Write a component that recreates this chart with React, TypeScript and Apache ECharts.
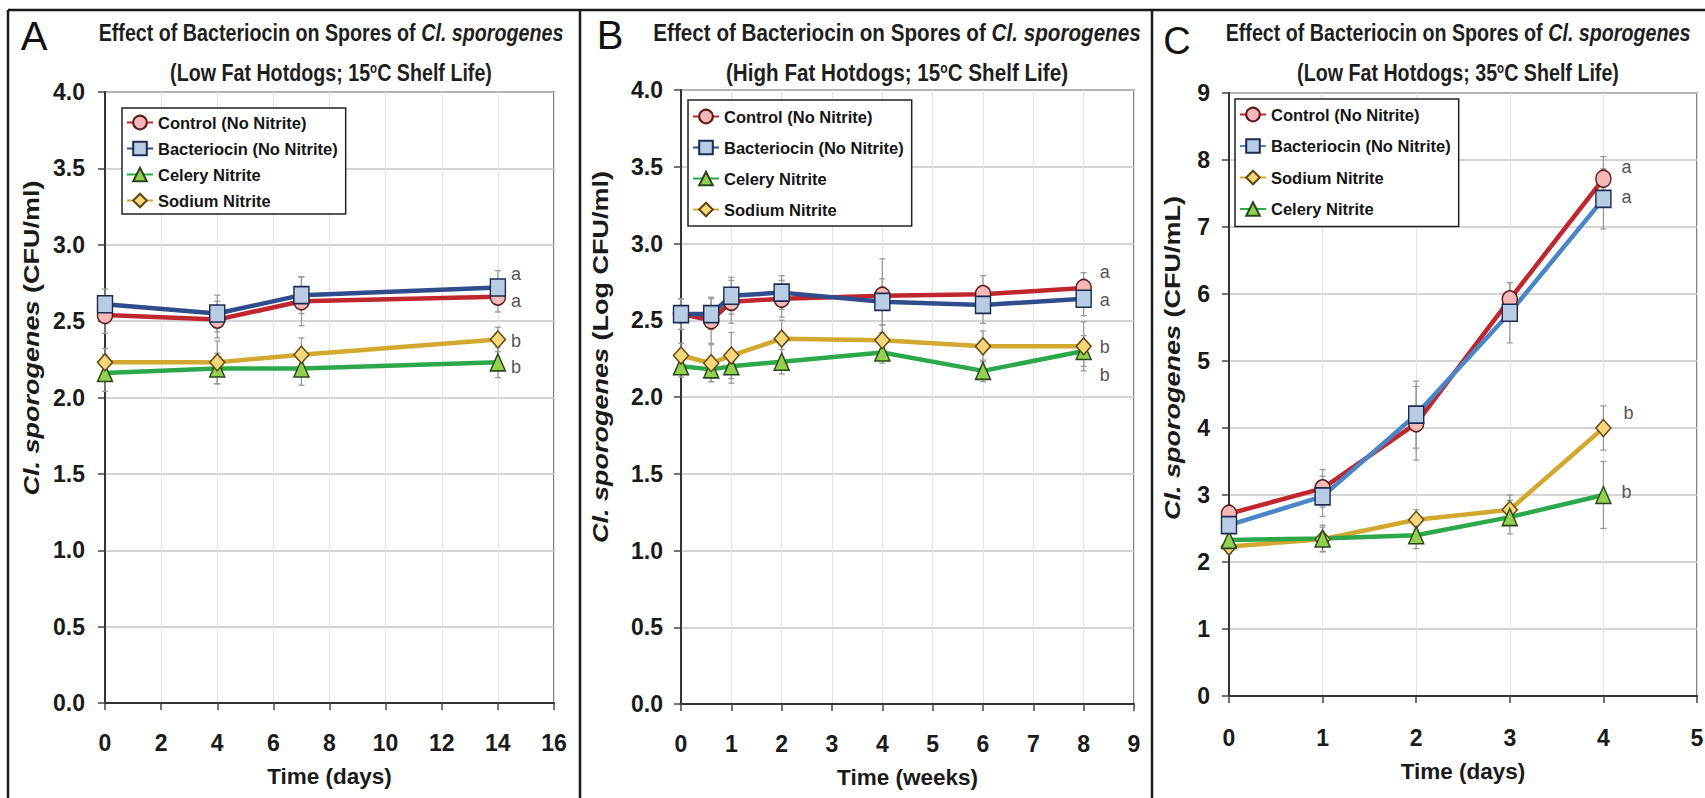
import React, { useEffect, useRef } from 'react';
import * as echarts from 'echarts';

// ---------- DATA ----------
const seriesNames = ['Control (No Nitrite)', 'Bacteriocin (No Nitrite)', 'Celery Nitrite', 'Sodium Nitrite'];

// Panel A: low fat hotdogs, 15 C (days)
const daysA = [0, 4, 7, 14];
const controlA = [2.54, 2.51, 2.63, 2.66];
const bactA = [2.61, 2.55, 2.67, 2.72];
const celeryA = [2.16, 2.19, 2.19, 2.23];
const sodiumA = [2.23, 2.23, 2.28, 2.38];
const controlErrA = [0.12, 0.12, 0.16, 0.1];
const bactErrA = [0.1, 0.12, 0.12, 0.11];
const celeryErrA = [0.12, 0.1, 0.11, 0.1];
const sodiumErrA = [0.09, 0.14, 0.11, 0.08];
const lettersA = ['a', 'a', 'b', 'b'];

// Panel B: high fat hotdogs, 15 C (weeks)
const weeksB = [0, 0.6, 1, 2, 4, 6, 8];
const controlB = [2.54, 2.5, 2.62, 2.64, 2.66, 2.67, 2.71];
const bactB = [2.54, 2.54, 2.66, 2.68, 2.62, 2.6, 2.64];
const celeryB = [2.2, 2.18, 2.2, 2.23, 2.29, 2.17, 2.3];
const sodiumB = [2.27, 2.22, 2.27, 2.38, 2.37, 2.33, 2.33];
const controlErrB = [0.1, 0.15, 0.14, 0.12, 0.24, 0.12, 0.1];
const bactErrB = [0.1, 0.1, 0.12, 0.11, 0.15, 0.12, 0.11];
const celeryErrB = [0.07, 0.08, 0.11, 0.08, 0.07, 0.07, 0.1];
const sodiumErrB = [0.08, 0.12, 0.15, 0.12, 0.1, 0.1, 0.16];
const lettersB = ['a', 'a', 'b', 'b'];

// Panel C: low fat hotdogs, 35 C (days)
const daysC = [0, 1, 2, 3, 4];
const controlC = [2.72, 3.1, 4.07, 5.92, 7.72];
const bactC = [2.55, 2.98, 4.2, 5.72, 7.42];
const celeryC = [2.33, 2.35, 2.4, 2.67, 3.0];
const sodiumC = [2.23, 2.34, 2.63, 2.78, 4.0];
const controlErrC = [0.1, 0.28, 0.55, 0.25, 0.33];
const bactErrC = [0.1, 0.3, 0.5, 0.45, 0.45];
const celeryErrC = [0.1, 0.2, 0.2, 0.25, 0.5];
const sodiumErrC = [0.1, 0.18, 0.15, 0.22, 0.33];
const lettersC = ['a', 'a', 'b', 'b'];

const ticksA = { min: 0, max: 16, interval: 2 };
const ticksB = { min: 0, max: 9, interval: 1 };
const ticksC = { min: 0, max: 5, interval: 1 };

// ---------- STYLE ----------
const SANS = "'Liberation Sans', Arial, sans-serif";

const look: any = {
  control: { symbol: 'circle', line: '#C0262D', fill: '#F4B8B8', border: '#5A1A1A' },
  bact: { symbol: 'rect', line: '#2F4D8C', fill: '#B8CCE4', border: '#1C2C50' },
  celery: { symbol: 'triangle', line: '#2CA84A', fill: '#92D050', border: '#2A451C' },
  sodium: { symbol: 'diamond', line: '#D3A82E', fill: '#F7D67A', border: '#5E4810' },
};

function lineSeries(name: string, key: string, xs: number[], ys: number[], gi: number, letter: string, offset: number[], lineColor?: string) {
  const lk = look[key];
  return {
    type: 'line',
    name,
    xAxisIndex: gi,
    yAxisIndex: gi,
    z: 3,
    symbol: lk.symbol,
    symbolSize: [15, 17],
    showSymbol: true,
    lineStyle: { color: lineColor || lk.line, width: 4.5 },
    itemStyle: { color: lk.fill, borderColor: lk.border, borderWidth: 1.5 },
    emphasis: { disabled: true },
    data: xs.map((x, j) =>
      j === xs.length - 1
        ? {
            value: [x, ys[j]],
            label: {
              show: true,
              formatter: letter,
              position: 'right',
              offset,
              color: '#555',
              fontSize: 18,
              fontFamily: SANS,
            },
          }
        : [x, ys[j]]
    ),
  };
}

function errSeries(gi: number, xs: number[], ys: number[], es: number[]) {
  return {
    type: 'custom',
    xAxisIndex: gi,
    yAxisIndex: gi,
    z: 2,
    silent: true,
    data: xs.map((x, j) => [x, ys[j], es[j]]),
    encode: { x: 0, y: 1 },
    renderItem: (params: any, api: any) => {
      const x = api.value(0);
      const y = api.value(1);
      const e = api.value(2);
      const hi = api.coord([x, y + e]);
      const lo = api.coord([x, y - e]);
      const w = 3;
      const st = { stroke: '#9a9a9a', lineWidth: 1.3 };
      return {
        type: 'group',
        children: [
          { type: 'line', shape: { x1: hi[0], y1: hi[1], x2: lo[0], y2: lo[1] }, style: st },
          { type: 'line', shape: { x1: hi[0] - w, y1: hi[1], x2: hi[0] + w, y2: hi[1] }, style: st },
          { type: 'line', shape: { x1: lo[0] - w, y1: lo[1], x2: lo[0] + w, y2: lo[1] }, style: st },
        ],
      };
    },
  };
}

function xAxis(gi: number, t: any, name: string, gap: number, labelMargin: number) {
  return {
    type: 'value',
    gridIndex: gi,
    min: t.min,
    max: t.max,
    interval: t.interval,
    name,
    nameLocation: 'middle',
    nameGap: gap,
    nameTextStyle: { fontFamily: SANS, fontSize: 22.5, fontWeight: 'bold', color: '#1a1a1a' },
    axisLine: { show: true, onZero: false, lineStyle: { color: '#333', width: 2 } },
    axisTick: { show: true, length: 7, lineStyle: { color: '#444', width: 1.5 } },
    axisLabel: { fontFamily: SANS, fontSize: 23, fontWeight: 'bold', color: '#1a1a1a', margin: labelMargin },
    splitLine: { show: true, lineStyle: { color: '#e3e3e3', width: 1 } },
  };
}

function yAxis(gi: number, min: number, max: number, interval: number, decimals: number, margin: number) {
  return {
    type: 'value',
    gridIndex: gi,
    min,
    max,
    interval,
    axisLine: { show: true, onZero: false, lineStyle: { color: '#333', width: 2 } },
    axisTick: { show: true, length: 7, lineStyle: { color: '#444', width: 1.5 } },
    axisLabel: {
      fontFamily: SANS,
      fontSize: 23,
      fontWeight: 'bold',
      color: '#1a1a1a',
      margin,
      formatter: (v: number) => v.toFixed(decimals),
    },
    splitLine: { show: true, lineStyle: { color: '#c6c6c6', width: 1.5 } },
  };
}

function legend(left: number, top: number, names: string[], pad: number[], gap: number, overrides: any = {}) {
  return {
    orient: 'vertical',
    left,
    top,
    padding: pad,
    itemGap: gap,
    itemWidth: 26,
    itemHeight: 17,
    selectedMode: false,
    borderColor: '#222',
    borderWidth: 1.5,
    backgroundColor: '#fff',
    textStyle: { fontFamily: SANS, fontSize: 16.5, fontWeight: 'bold', color: '#151515' },
    data: names.map((n) => (overrides[n] ? { name: n, ...overrides[n] } : { name: n })),
  };
}

function titleLines(cx: number, scale: number, line2: string) {
  const base = { fontFamily: SANS, fontSize: 24, fontWeight: 'bold', fill: '#1e1e1e' };
  return [
    {
      type: 'text',
      x: cx,
      y: 33,
      scaleX: scale,
      style: {
        ...base,
        text: 'Effect of Bacteriocin on Spores of {i|Cl. sporogenes}',
        align: 'center',
        verticalAlign: 'middle',
        rich: { i: { ...base, fontStyle: 'italic' } },
      },
    },
    {
      type: 'text',
      x: cx,
      y: 73,
      scaleX: scale,
      style: {
        ...base,
        text: line2,
        align: 'center',
        verticalAlign: 'middle',
        rich: { sup: { ...base, fontSize: 14, verticalAlign: 'top', padding: [0, 0, 10, 0] } },
      },
    },
  ];
}

function yName(cx: number, cy: number, unit: string) {
  const base = { fontFamily: SANS, fontSize: 27, fontWeight: 'bold', fill: '#1a1a1a' };
  return {
    type: 'text',
    x: cx,
    y: cy,
    rotation: Math.PI / 2,
    scaleY: 0.84,
    style: {
      ...base,
      text: '{i|Cl. sporogenes} ' + unit,
      align: 'center',
      verticalAlign: 'middle',
      rich: { i: { ...base, fontStyle: 'italic' } },
    },
  };
}

export default function App() {
  const ref = useRef<HTMLDivElement>(null);

  useEffect(() => {
    if (!ref.current) return;
    const chart = echarts.init(ref.current, null, { renderer: 'svg' });

    const grids = [
      { left: 105, top: 92, width: 449, height: 611 },
      { left: 681, top: 90, width: 453, height: 614 },
      { left: 1229, top: 93, width: 468, height: 603 },
    ].map((g) => ({ ...g, show: true, borderColor: '#555', borderWidth: 1.5, containLabel: false, outerBoundsMode: 'none' }));

    const series: any[] = [
      errSeries(0, daysA, controlA, controlErrA),
      errSeries(0, daysA, bactA, bactErrA),
      errSeries(0, daysA, celeryA, celeryErrA),
      errSeries(0, daysA, sodiumA, sodiumErrA),
      lineSeries(seriesNames[0], 'control', daysA, controlA, 0, lettersA[0], [0, 4]),
      lineSeries(seriesNames[1], 'bact', daysA, bactA, 0, lettersA[1], [0, -14]),
      lineSeries(seriesNames[2], 'celery', daysA, celeryA, 0, lettersA[2], [0, 5]),
      lineSeries(seriesNames[3], 'sodium', daysA, sodiumA, 0, lettersA[3], [0, 2]),

      errSeries(1, weeksB, controlB, controlErrB),
      errSeries(1, weeksB, bactB, bactErrB),
      errSeries(1, weeksB, celeryB, celeryErrB),
      errSeries(1, weeksB, sodiumB, sodiumErrB),
      lineSeries(seriesNames[0], 'control', weeksB, controlB, 1, lettersB[0], [3, -16]),
      lineSeries(seriesNames[1], 'bact', weeksB, bactB, 1, lettersB[1], [3, 1]),
      lineSeries(seriesNames[2], 'celery', weeksB, celeryB, 1, lettersB[2], [3, 24]),
      lineSeries(seriesNames[3], 'sodium', weeksB, sodiumB, 1, lettersB[3], [3, 1]),

      errSeries(2, daysC, controlC, controlErrC),
      errSeries(2, daysC, bactC, bactErrC),
      errSeries(2, daysC, sodiumC, sodiumErrC),
      errSeries(2, daysC, celeryC, celeryErrC),
      lineSeries(seriesNames[3], 'sodium', daysC, sodiumC, 2, lettersC[2], [7, -15]),
      lineSeries(seriesNames[2], 'celery', daysC, celeryC, 2, lettersC[3], [5, -3]),
      lineSeries(seriesNames[0], 'control', daysC, controlC, 2, lettersC[0], [5, -12]),
      lineSeries(seriesNames[1], 'bact', daysC, bactC, 2, lettersC[1], [5, -2], '#4A86C6'),
    ];

    const border = { stroke: '#1a1a1a', lineWidth: 2.5 };

    const option: any = {
      animation: false,
      backgroundColor: '#fff',
      grid: grids,
      xAxis: [
        xAxis(0, ticksA, 'Time (days)', 62, 28),
        xAxis(1, ticksB, 'Time (weeks)', 62, 28),
        xAxis(2, ticksC, 'Time (days)', 64, 30),
      ],
      yAxis: [yAxis(0, 0, 4, 0.5, 1, 20), yAxis(1, 0, 4, 0.5, 1, 18), yAxis(2, 0, 9, 1, 0, 19)],
      legend: [
        legend(122, 108, seriesNames, [6, 8, 5, 4], 9),
        legend(688, 100, seriesNames, [8, 8, 8, 4], 14),
        legend(1235, 99, [seriesNames[0], seriesNames[1], seriesNames[3], seriesNames[2]], [7, 8, 9, 4], 14.5, {
          [seriesNames[1]]: { lineStyle: { color: '#4A86C6' } },
        }),
      ],
      series,
      graphic: [
        { type: 'line', shape: { x1: 8, y1: 10, x2: 1705, y2: 10 }, style: border, silent: true },
        { type: 'line', shape: { x1: 8, y1: 10, x2: 8, y2: 798 }, style: border, silent: true },
        { type: 'line', shape: { x1: 580, y1: 10, x2: 580, y2: 798 }, style: border, silent: true },
        { type: 'line', shape: { x1: 1152, y1: 10, x2: 1152, y2: 798 }, style: border, silent: true },
        { type: 'text', x: 34, y: 36, style: { text: 'A', fontFamily: SANS, fontSize: 40, fill: '#111', align: 'center', verticalAlign: 'middle' } },
        { type: 'text', x: 610, y: 35, style: { text: 'B', fontFamily: SANS, fontSize: 40, fill: '#111', align: 'center', verticalAlign: 'middle' } },
        { type: 'text', x: 1177, y: 41, style: { text: 'C', fontFamily: SANS, fontSize: 38, fill: '#111', align: 'center', verticalAlign: 'middle' } },
        ...titleLines(331, 0.82, '(Low Fat Hotdogs; 15{sup|o}C Shelf Life)'),
        ...titleLines(897, 0.86, '(High Fat Hotdogs; 15{sup|o}C Shelf Life)'),
        ...titleLines(1458, 0.82, '(Low Fat Hotdogs; 35{sup|o}C Shelf Life)'),
        yName(31, 338, '(CFU/ml)'),
        yName(600, 357, '(Log CFU/ml)'),
        yName(1172, 358, '(CFU/mL)'),
      ],
    };

    chart.setOption(option);
    return () => chart.dispose();
  }, []);

  return <div ref={ref} style={{ position: 'absolute', left: 0, top: 0, width: 1705, height: 798 }} />;
}
